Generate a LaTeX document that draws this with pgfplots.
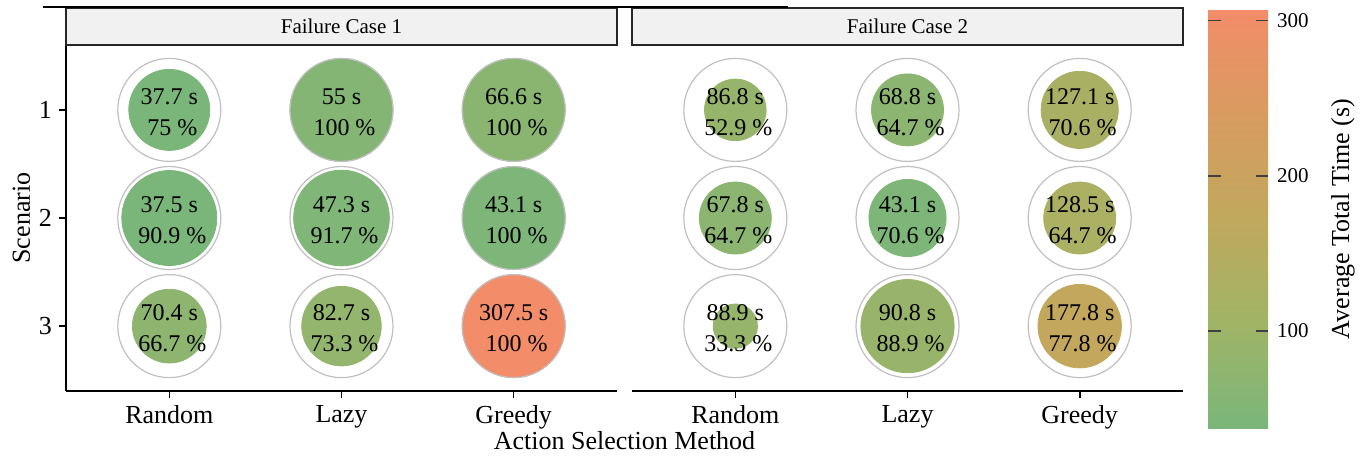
\documentclass[border=0pt]{standalone}
\usepackage{pgfplots}
\pgfplotsset{compat=1.18}
\usepackage{pgfplotstable}
\usepackage{fontspec}
\setmainfont{Liberation Serif}
\pgfplotsset{/pgf/number format/assume math mode=true}
\pgfplotsset{colormap={ggc}{rgb255(0cm)=(122,182,122); rgb255(1cm)=(160,180,102); rgb255(2cm)=(192,168,92); rgb255(3cm)=(216,155,95); rgb255(4cm)=(242,140,105)}}
\definecolor{stripgray}{RGB}{241,241,241}
\definecolor{ringgray}{RGB}{192,192,192}

% Failure Case 1: x = method (1 Random, 2 Lazy, 3 Greedy), y = scenario
\pgfplotstableread{
x y time pct
1 1 37.7 75
2 1 55 100
3 1 66.6 100
1 2 37.5 90.9
2 2 47.3 91.7
3 2 43.1 100
1 3 70.4 66.7
2 3 82.7 73.3
3 3 307.5 100
}\fcone
% Failure Case 2
\pgfplotstableread{
x y time pct
1 1 86.8 52.9
2 1 68.8 64.7
3 1 127.1 70.6
1 2 67.8 64.7
2 2 43.1 70.6
3 2 128.5 64.7
1 3 88.9 33.3
2 3 90.8 88.9
3 3 177.8 77.8
}\fctwo

\pgfplotsset{
 facet/.style={
  scale only axis, width=275.5pt, height=173pt,
  xmin=0.4, xmax=3.6, ymin=0.4, ymax=3.6, y dir=reverse,
  xtick={1,2,3}, xticklabels={Random,Lazy,Greedy},
  axis x line*=bottom,
  axis line style={-, line width=0.9pt, black},
  tick style={black, line width=0.8pt},
  major tick length=3.5pt, tick align=outside,
  ticklabel style={font=\fontsize{13}{15}\selectfont},
  colormap name=ggc, point meta min=37.5, point meta max=307.5,
  clip=false,
 },
 inner/.style={scatter, only marks, mark=*, point meta=\thisrow{time},
   scatter/use mapped color={draw=mapped color, fill=mapped color},
   visualization depends on={\thisrow{pct}\as\pv},
   scatter/@pre marker code/.append style={/tikz/mark size={25.75*(0.146+0.00854*\pv)}}},
 ring/.style={only marks, mark=o, mark size=25.75pt, mark options={draw=ringgray, line width=0.6pt}},
 labs/.style={only marks, mark=none,
   point meta=explicit symbolic,
   every node near coord/.append style={anchor=center, text=black,
     font=\fontsize{12}{14}\selectfont, inner sep=0pt}},
}

\begin{document}
\begin{tikzpicture}
\path[use as bounding box] (0,0) rectangle (684pt,228.5pt);

\begin{axis}[facet, at={(33pt,33pt)}, anchor=south west,
  axis y line*=left, ytick={1,2,3}]
\addplot[inner] table[x=x, y=y] {\fcone};
\addplot[ring] table[x=x, y=y] {\fcone};
\addplot[labs, nodes near coords={\pgfplotspointmeta\ s},
  every node near coord/.append style={yshift=6.7pt}] table[x=x, y=y, meta=time] {\fcone};
\addplot[labs, nodes near coords={\hspace*{0.25em}\pgfplotspointmeta\ \%},
  every node near coord/.append style={yshift=-9pt}] table[x=x, y=y, meta=pct] {\fcone};
\end{axis}

\begin{axis}[facet, at={(316pt,33pt)}, anchor=south west,
  axis y line=none, ytick=\empty,
  colorbar right,
  colorbar/width=30pt,
  colorbar style={
    scale only axis, width=30pt, height=209.5pt, axis on top,
    at={(parent axis.north east)}, anchor=north west, xshift=3.96pt, yshift=18pt,
    ytick={100,200,300}, yticklabel pos=right, ytick pos=both,
    axis line style={draw=none},
    major tick length=6pt, tick align=inside, ytick align=inside,
    ytick style={draw=black!75, line width=0.7pt},
    yticklabel style={font=\fontsize{10.5}{12}\selectfont, xshift=1pt},
  }]
\addplot[inner] table[x=x, y=y] {\fctwo};
\addplot[ring] table[x=x, y=y] {\fctwo};
\addplot[labs, nodes near coords={\pgfplotspointmeta\ s},
  every node near coord/.append style={yshift=6.7pt}] table[x=x, y=y, meta=time] {\fctwo};
\addplot[labs, nodes near coords={\hspace*{0.25em}\pgfplotspointmeta\ \%},
  every node near coord/.append style={yshift=-9pt}] table[x=x, y=y, meta=pct] {\fctwo};
\end{axis}

% colorbar left-edge tick marks (100, 200, 300)
\foreach \yy in {63pt,140.6pt,218.2pt}
  \draw[black!75, line width=0.7pt] (604.3pt,\yy) -- ++(6pt,0);

% facet strips
\draw[fill=stripgray, draw=black!85, line width=0.6pt] (33pt,206pt) rectangle (308.5pt,224.5pt);
\node[font=\fontsize{10.5}{12}\selectfont] at (170.75pt,215.25pt) {Failure Case 1};
\draw[fill=stripgray, draw=black!85, line width=0.6pt] (316pt,206pt) rectangle (591.5pt,224.5pt);
\node[font=\fontsize{10.5}{12}\selectfont] at (453.75pt,215.25pt) {Failure Case 2};
\draw[line width=0.9pt] (21.5pt,225pt) -- (394pt,225pt);

% axis titles
\node[font=\fontsize{13}{15}\selectfont] at (312.25pt,8pt) {Action Selection Method};
\node[rotate=90, font=\fontsize{13}{15}\selectfont] at (10.75pt,119.5pt) {Scenario};
\node[rotate=90, font=\fontsize{13}{15}\selectfont] at (671.5pt,119pt) {Average Total Time (s)};
\end{tikzpicture}
\end{document}
